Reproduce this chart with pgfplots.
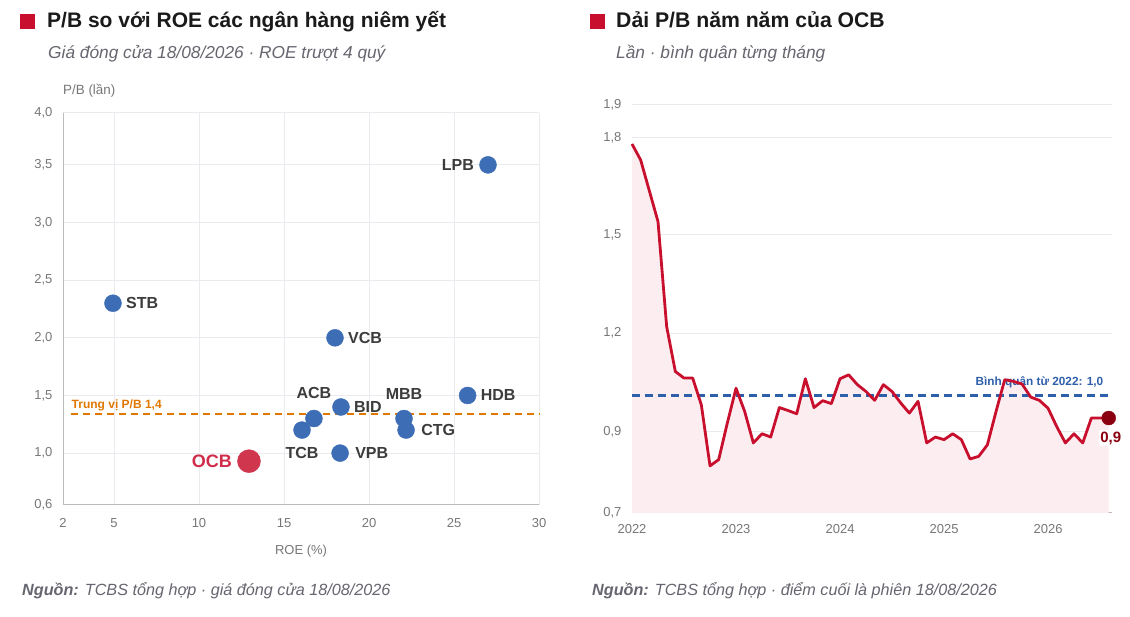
\documentclass[border=0pt]{standalone}
\usepackage{pgfplots}
\pgfplotsset{compat=1.18}
\usepackage{fontspec}
\setmainfont{Liberation Sans}
\definecolor{redc}{HTML}{C8102E}
\definecolor{darkredc}{HTML}{8A0010}
\definecolor{pinkc}{HTML}{FCEEF0}
\definecolor{bluec}{HTML}{3D6DB5}
\definecolor{ocbc}{HTML}{D0364E}
\definecolor{ocbtext}{HTML}{D02D4A}
\definecolor{bluedash}{HTML}{2E5FAA}
\definecolor{orangec}{HTML}{E07800}
\definecolor{gridc}{HTML}{EBEBEF}
\definecolor{axisc}{HTML}{BBBBBB}
\definecolor{tickc}{HTML}{777777}
\definecolor{titlec}{HTML}{1A1A1A}
\definecolor{subc}{HTML}{666670}
\definecolor{labc}{HTML}{3C3C3C}

\pgfplotstableread{
m v
0 1.827
1 1.778
2 1.684
3 1.590
4 1.269
5 1.132
6 1.112
7 1.112
8 1.030
9 0.844
10 0.863
11 0.975
12 1.081
13 1.010
14 0.914
15 0.942
16 0.932
17 1.022
18 1.013
19 1.003
20 1.110
21 1.022
22 1.043
23 1.034
24 1.110
25 1.122
26 1.092
27 1.071
28 1.044
29 1.092
30 1.071
31 1.036
32 1.005
33 1.041
34 0.914
35 0.932
36 0.924
37 0.942
38 0.924
39 0.865
40 0.873
41 0.908
42 1.010
43 1.107
44 1.102
45 1.094
46 1.054
47 1.044
48 1.020
49 0.964
50 0.914
51 0.942
52 0.914
53 0.990
54 0.990
55 0.990
}\pbtable

\begin{document}
\begin{tikzpicture}[x=1pt,y=1pt]
\path[use as bounding box,fill=white] (0,0) rectangle (1130,616);

% ---------- titles ----------
\fill[redc] (20,587) rectangle (35,602);
\node[anchor=base west,inner sep=0,text=titlec,font=\bfseries\fontsize{21}{25}\selectfont] at (47,588) {P/B so với ROE các ngân hàng niêm yết};
\node[anchor=base west,inner sep=0,text=subc,font=\itshape\fontsize{17.3}{20}\selectfont] at (48,557) {Giá đóng cửa 18/08/2026 · ROE trượt 4 quý};
\fill[redc] (590,587) rectangle (605,602);
\node[anchor=base west,inner sep=0,text=titlec,font=\bfseries\fontsize{21.2}{25}\selectfont] at (616,588) {Dải P/B năm năm của OCB};
\node[anchor=base west,inner sep=0,text=subc,font=\itshape\fontsize{17.3}{20}\selectfont] at (616,557) {Lần · bình quân từng tháng};
% footers
\node[anchor=base west,inner sep=0,text=subc,font=\itshape\fontsize{16.2}{19}\selectfont] at (22,21) {\textbf{Nguồn:} TCBS tổng hợp · giá đóng cửa 18/08/2026};
\node[anchor=base west,inner sep=0,text=subc,font=\itshape\fontsize{16.2}{19}\selectfont] at (592,21) {\textbf{Nguồn:} TCBS tổng hợp · điểm cuối là phiên 18/08/2026};
% axis label
\node[anchor=base west,inner sep=0,text=tickc,font=\fontsize{13.4}{15}\selectfont] at (63,521) {P/B (lần)};

% ---------- left scatter ----------
\begin{axis}[
  at={(63pt,111pt)}, anchor=south west, scale only axis,
  width=476pt, height=392pt,
  xmin=2, xmax=30, ymin=0.55, ymax=3.95,
  xtick={2,5,10,15,20,25,30},
  ytick={0.55,1,1.5,2,2.5,3,3.5,3.95},
  yticklabels={{0,6},{1,0},{1,5},{2,0},{2,5},{3,0},{3,5},{4,0}},
  xticklabels={2,5,10,15,20,25,30},
  grid=major, major grid style={color=gridc, line width=1pt},
  axis x line*=bottom, axis y line*=left,
  axis line style={-, color=axisc, line width=1pt},
  major tick length=0pt,
  tick label style={font=\fontsize{13}{15}\selectfont, text=tickc},
  xticklabel style={yshift=-10pt},
  yticklabel style={xshift=-7pt},
  xlabel={ROE (\%)},
  xlabel style={font=\fontsize{13}{15}\selectfont, text=tickc, yshift=-10pt},
  clip=false,
]
\addplot[orangec, line width=2pt, dash pattern=on 7pt off 5pt] coordinates {(2.45,1.34) (30,1.34)};
\node[anchor=base west, inner sep=0, text=orangec, font=\bfseries\fontsize{12}{13}\selectfont] at (axis cs:2.5,1.39) {Trung vị P/B 1,4};
\addplot[only marks, mark=*, mark size=8.5pt, color=bluec] coordinates {
(27.0,3.50) (4.94,2.30) (18.0,2.00) (25.8,1.50) (18.35,1.40) (16.76,1.30) (16.06,1.20) (22.06,1.30) (22.18,1.20) (18.3,1.00)};
\addplot[only marks, mark=*, mark size=11.5pt, color=ocbc] coordinates {(12.94,0.93)};
\begin{scope}[every node/.style={text=labc, font=\bfseries\fontsize{16}{18}\selectfont, inner sep=0}]
\node[anchor=east, xshift=-14pt] at (axis cs:27.0,3.50) {LPB};
\node[anchor=west, xshift=13pt] at (axis cs:4.94,2.30) {STB};
\node[anchor=west, xshift=13pt] at (axis cs:18.0,2.00) {VCB};
\node[anchor=west, xshift=13pt] at (axis cs:25.8,1.50) {HDB};
\node[anchor=west, xshift=13pt] at (axis cs:18.35,1.40) {BID};
\node[yshift=26pt] at (axis cs:16.76,1.30) {ACB};
\node[yshift=25pt] at (axis cs:22.06,1.30) {MBB};
\node[anchor=west, xshift=15pt] at (axis cs:22.18,1.20) {CTG};
\node[yshift=-23pt] at (axis cs:16.06,1.20) {TCB};
\node[anchor=west, xshift=15pt] at (axis cs:18.3,1.00) {VPB};
\end{scope}
\node[anchor=east, xshift=-17pt, inner sep=0, text=ocbtext, font=\bfseries\fontsize{18}{20}\selectfont] at (axis cs:12.94,0.93) {OCB};
\end{axis}

% ---------- right line ----------
\begin{axis}[
  at={(632pt,103pt)}, anchor=south west, scale only axis,
  width=480pt, height=408pt,
  xmin=0, xmax=55.38, ymin=0.7, ymax=1.946,
  xtick={0,12,24,36,48},
  xticklabels={2022,2023,2024,2025,2026},
  ytick={0.7,0.949,1.249,1.549,1.846,1.946},
  yticklabels={{0,7},{0,9},{1,2},{1,5},{1,8},{1,9}},
  ymajorgrids, major grid style={color=gridc, line width=1pt},
  axis x line*=bottom, axis y line*=left,
  x axis line style={-, color=axisc, line width=1pt},
  y axis line style={draw=none},
  major tick length=0pt,
  tick label style={font=\fontsize{13}{15}\selectfont, text=tickc},
  xticklabel style={yshift=-8pt},
  yticklabel style={xshift=-7pt},
  clip=false,
]
\addplot[draw=none, fill=pinkc] table[x=m,y=v] {\pbtable} -- (axis cs:55,0.7) -- (axis cs:0,0.7) -- cycle;
\addplot[bluedash, line width=2.8pt, dash pattern=on 8pt off 5pt] coordinates {(0,1.058) (55.38,1.058)};
\node[anchor=base east, inner sep=0, text=bluedash, font=\bfseries\fontsize{11.8}{14}\selectfont] at (axis cs:54.4,1.088) {Bình quân từ 2022: 1,0};
\addplot[redc, line width=2.8pt, line join=round] table[x=m,y=v] {\pbtable};
\addplot[only marks, mark=*, mark size=7pt, color=darkredc] coordinates {(55,0.990)};
\node[fill=white, inner sep=1.5pt, text=darkredc, font=\bfseries\fontsize{15}{17}\selectfont, yshift=-20pt, xshift=2pt] at (axis cs:55,0.990) {0,9};
\end{axis}
\end{tikzpicture}
\end{document}
